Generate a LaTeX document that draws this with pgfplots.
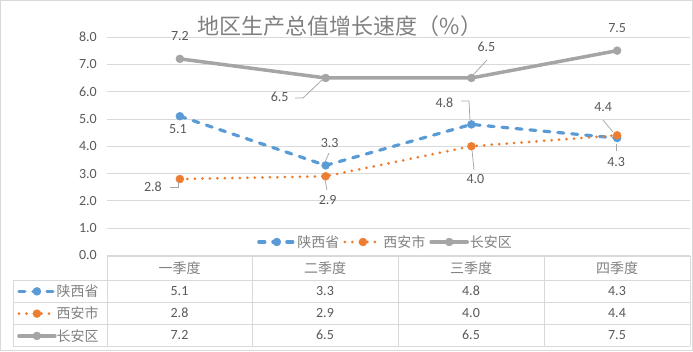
\documentclass[border=0pt]{standalone}
\usepackage{pgfplots}
\pgfplotsset{compat=1.18}
\usepackage{pgfplotstable}
\usepackage{fontspec}
\setmainfont{Carlito}
\newfontfamily\cjk{Noto Sans CJK SC}
\definecolor{cblue}{HTML}{5B9BD5}
\definecolor{corange}{HTML}{ED7D31}
\definecolor{cgray}{HTML}{A5A5A5}
\definecolor{ctext}{HTML}{595959}
\definecolor{clight}{HTML}{808080}
\definecolor{cgrid}{HTML}{D9D9D9}
\definecolor{clead}{HTML}{A6A6A6}

\pgfplotstableread{
x y dx dy
0 5.1 -2 -13
1 3.3 4 22
2 4.8 -27 22
3 4.3 -1 -24
}\shaanxi
\pgfplotstableread{
x y dx dy
0 2.8 -27 -8
1 2.9 2 -24
2 4.0 4 -33
3 4.4 -14 28
}\xian
\pgfplotstableread{
x y dx dy
0 7.2 0 23
1 6.5 -46 -19
2 6.5 15 31
3 7.5 0 22.5
}\changan

\tikzset{
  sblue/.style={cblue, line width=3.2pt, dash pattern=on 6pt off 8pt, line cap=round,
    mark=*, mark size=4pt, mark options={solid, fill=cblue, draw=cblue, line width=0.4pt}},
  sorange/.style={corange, line width=3pt, dash pattern=on 0pt off 7.5pt, line cap=round,
    mark=*, mark size=4pt, mark options={solid, fill=corange, draw=corange, line width=0.4pt}},
  sgray/.style={cgray, line width=3.5pt, line cap=round,
    mark=*, mark size=4pt, mark options={solid, fill=cgray, draw=cgray, line width=0.4pt}},
}

\begin{document}
\begin{tikzpicture}
\useasboundingbox (0pt,0pt) rectangle (693pt,351pt);
\draw[cgrid, line width=1pt] (0.5pt,0.5pt) rectangle (692.5pt,350.5pt);

\begin{axis}[
  at={(107pt,95.5pt)}, anchor=south west,
  width=583pt, height=218.5pt, scale only axis,
  xmin=-0.5, xmax=3.5, ymin=0, ymax=8,
  ytick={0,1,...,8}, xtick=\empty,
  ymajorgrids, grid style={cgrid, line width=0.8pt},
  axis line style={draw=none},
  major tick length=0pt,
  yticklabel style={font=\fontsize{14}{14}\selectfont, text=ctext, inner sep=0pt, anchor=east, xshift=-10pt},
  /pgf/number format/.cd, fixed, fixed zerofill, precision=1, assume math mode=true, /pgfplots/.cd,
  clip=false,
  nodes near coords,
  visualization depends on={\thisrow{dx}\as\dx},
  visualization depends on={\thisrow{dy}\as\dy},
  nodes near coords style={font=\fontsize{14}{14}\selectfont, text=ctext, anchor=center, inner sep=0pt,
    xshift=\dx pt, yshift=\dy pt, solid},
  legend columns=3,
  legend style={at={(0.477,0.0618)}, anchor=center, draw=none, fill=none,
    font=\cjk\fontsize{14}{14}\selectfont, text=clight,
    /tikz/every even column/.append style={column sep=3pt},
    nodes={inner sep=1pt}},
  legend image code/.code={\draw[mark repeat=2,mark phase=2,#1] plot coordinates {(0pt,0pt) (18pt,0pt) (36pt,0pt)};},
]
\addplot[sblue] table[x=x,y=y] {\shaanxi};
\addlegendentry{陕西省}
\addplot[sorange] table[x=x,y=y] {\xian};
\addlegendentry{西安市}
\addplot[sgray] table[x=x,y=y] {\changan};
\addlegendentry{长安区}
\end{axis}

\begin{axis}[
  at={(107pt,95.5pt)}, anchor=south west,
  width=583pt, height=218.5pt, scale only axis,
  xmin=-0.5, xmax=3.5, ymin=0, ymax=8,
  hide axis,
  legend columns=1,
  legend style={at={(-0.1544,-0.1121)}, anchor=north west, draw=none, fill=none, inner sep=0pt,
    font=\cjk\fontsize{14}{14}\selectfont, text=clight,
    row sep=0pt,
    nodes={inner sep=0pt, text height=16.4pt, text depth=5.9pt}},
  legend image code/.code={\draw[mark repeat=2,mark phase=2,#1] plot coordinates {(0pt,0pt) (18pt,0pt) (36pt,0pt)};},
  legend cell align=left,
  /tikz/every even column/.append style={column sep=5pt},
]
\addlegendimage{sblue}
\addlegendentry{陕西省}
\addlegendimage{sorange}
\addlegendentry{西安市}
\addlegendimage{sgray}
\addlegendentry{长安区}
\end{axis}

\begin{scope}[x=1pt, y=-1pt, shift={(0pt,351pt)}]
  % leader lines
  \begin{scope}[clead, line width=0.75pt]
    \draw (295,98) -- (303,98) -- (322,80);
    \draw (487,60) -- (473,75);
    \draw (329,153) -- (325,162);
    \draw (461,101) -- (469,101) -- (470,120);
    \draw (616,144) -- (616,151);
    \draw (170,187) -- (178,187) -- (178,182);
    \draw (325,180) -- (327,190);
    \draw (472,150) -- (474,170);
    \draw (603,120) -- (613,132);
  \end{scope}
  % table grid
  \begin{scope}[cgrid, line width=0.8pt]
    \draw (107,256) -- (690,256);
    \foreach \yy in {280,302,324,346} \draw (13,\yy) -- (690,\yy);
    \draw (13,280) -- (13,346);
    \foreach \xx in {107,252,398,544,690} \draw (\xx,256) -- (\xx,346);
  \end{scope}
  % title
  \node[font=\cjk\fontsize{22}{22}\selectfont, text=clight] at (340,26) {地区生产总值增长速度（\%）};
  % header
  \begin{scope}[every node/.style={font=\cjk\fontsize{14}{14}\selectfont, text=clight}]
    \node at (179.5,268) {一季度};
    \node at (325,268) {二季度};
    \node at (471,268) {三季度};
    \node at (617,268) {四季度};
  \end{scope}
  \begin{scope}[every node/.style={font=\fontsize{14}{14}\selectfont, text=ctext}]
    \node at (179.5,291) {5.1}; \node at (325,291) {3.3}; \node at (471,291) {4.8}; \node at (617,291) {4.3};
    \node at (179.5,313) {2.8}; \node at (325,313) {2.9}; \node at (471,313) {4.0}; \node at (617,313) {4.4};
    \node at (179.5,335) {7.2}; \node at (325,335) {6.5}; \node at (471,335) {6.5}; \node at (617,335) {7.5};
  \end{scope}
\end{scope}
\end{tikzpicture}
\end{document}
